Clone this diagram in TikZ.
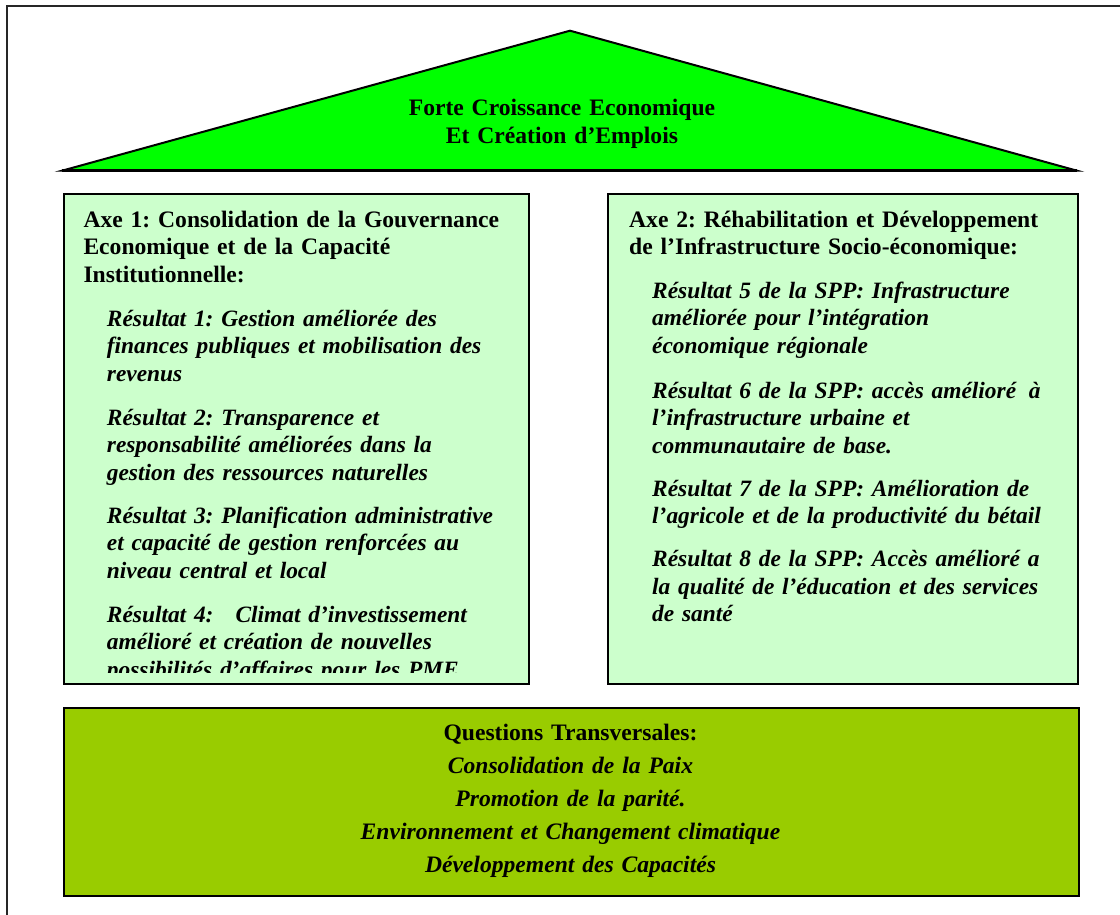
\documentclass[tikz,border=0pt]{standalone}
\usepackage{fontspec}
\setmainfont{Liberation Serif}
\frenchspacing
\definecolor{roofgreen}{HTML}{00FF00}
\definecolor{pale}{HTML}{CCFFCC}
\definecolor{olive}{HTML}{99CC00}
\begin{document}
\begin{tikzpicture}[x=1pt,y=-1pt,
  frame/.style={draw=black,line width=2pt},
  axebox/.style={frame,fill=pale,rectangle,inner sep=0pt,anchor=north west},
  para/.style={anchor=base west,inner sep=0pt,text width=460pt,align=left,
    font=\fontsize{23.6}{27.6}\selectfont\bfseries\frenchspacing},
  res/.style={para,font=\fontsize{23.4}{27.6}\selectfont\bfseries\itshape\frenchspacing},
]
\useasboundingbox (0,0) rectangle (1120,915);
% outer frame (top and left edges)
\draw[line width=2pt,black!85] (7,915) -- (7,6.5) -- (1120,6.5);
% roof
\draw[frame,fill=roofgreen,line join=miter] (62,170.7) -- (570,30.7) -- (1077,170.7) -- cycle;
\draw[line width=3pt] (62,170.7) -- (1077,170.7);
\node[anchor=base,inner sep=0pt,text width=400pt,align=center,
  font=\fontsize{23.6}{27.6}\selectfont\bfseries\frenchspacing] (roof) at (562,115.7)
  {Forte Croissance Economique\\Et Création d’Emplois};
% axis boxes
\node[axebox,minimum width=465pt,minimum height=489.5pt] (axe1) at (63,193.5) {};
\node[axebox,minimum width=470pt,minimum height=489.5pt] (axe2) at (607,193.5) {};
% bottom box
\node[axebox,fill=olive,minimum width=1015pt,minimum height=187.5pt] (trans) at (63,707) {};
% Axe 1 text (clipped at the bottom)
\begin{scope}
\clip (64,194) rectangle (527,672);
\node[para] (h1) at (83.3,227.3) {Axe 1: Consolidation de la Gouvernance\\Economique et de la Capacité\\Institutionnelle:};
\node[res] (r1) at (106.7,326) {Résultat 1: Gestion améliorée des\\finances publiques et mobilisation des\\revenus};
\node[res] (r2) at (106.7,425) {Résultat 2: Transparence et\\responsabilité améliorées dans la\\gestion des ressources naturelles};
\node[res] (r3) at (106.7,523.3) {Résultat 3: Planification administrative\\et capacité de gestion renforcées au\\niveau central et local};
\node[res] (r4) at (106.7,622.3) {Résultat 4:\hspace{22pt}Climat d’investissement\\amélioré et création de nouvelles\\possibilités d’affaires pour les PME};
\end{scope}
% Axe 2 text
\node[para] (h2) at (629,227.3) {Axe 2: Réhabilitation et Développement\\de l’Infrastructure Socio-économique:};
\node[res] (r5) at (652,298.3) {Résultat 5 de la SPP: Infrastructure\\améliorée pour l’intégration\\économique régionale};
\node[res] (r6) at (652,398.3) {Résultat 6 de la SPP: accès amélioré\hspace{12.7pt}à\\l’infrastructure urbaine et\\communautaire de base.};
\node[res] (r7) at (652,496) {Résultat 7 de la SPP: Amélioration de\\l’agricole et de la productivité du bétail};
\node[res] (r8) at (652,566.7) {Résultat 8 de la SPP: Accès amélioré a\\la qualité de l’éducation et des services\\de santé};
% cross-cutting text
\node[anchor=base,inner sep=0pt,text width=900pt,align=center,
  font=\fontsize{23.6}{32.9}\selectfont\bfseries\frenchspacing] (tq) at (570.5,740.7)
  {Questions Transversales:\\\itshape Consolidation de la Paix\\\itshape Promotion de la parité.\\\itshape Environnement et Changement climatique\\\itshape Développement des Capacités};
\end{tikzpicture}
\end{document}
